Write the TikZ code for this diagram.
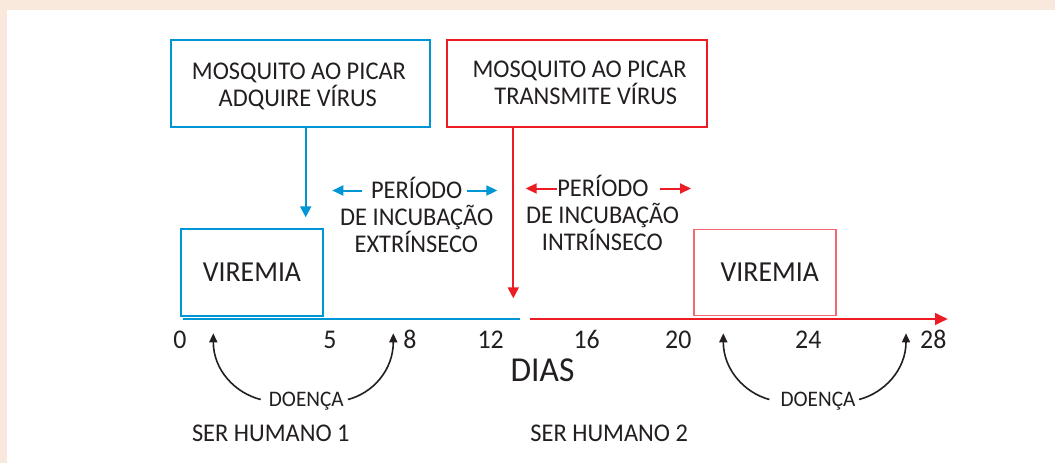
\documentclass[tikz,border=0pt]{standalone}
\usepackage{fontspec}
\setmainfont{Carlito}[FakeStretch=0.957]
\usetikzlibrary{arrows.meta}
\definecolor{cblue}{RGB}{0,150,214}
\definecolor{cred}{RGB}{237,28,36}
\definecolor{lred}{RGB}{242,105,112}
\definecolor{ink}{RGB}{35,31,32}
\definecolor{beige}{RGB}{248,233,220}
\newcommand{\fsz}[1]{\fontsize{#1}{#1}\selectfont}
\tikzset{
  txt/.style={inner sep=0pt, anchor=base, text=ink},
  boxtxt/.style={txt, font=\fsz{25.5}},
  numtxt/.style={txt, font=\fsz{27}},
  frame/.style={draw, inner sep=0pt, line width=2pt},
  bluearr/.style={cblue, line width=2pt, -{Triangle[length=11pt,width=11pt]}},
  redarr/.style={cred, line width=2pt, -{Triangle[length=11pt,width=11pt]}},
  perarrb/.style={cblue, line width=2pt, -{Triangle[length=11pt,width=10pt]}},
  perarrr/.style={cred, line width=2pt, -{Triangle[length=11pt,width=10pt]}},
  dcurve/.style={ink, line width=1.6pt, -{Triangle[length=9pt,width=8pt]}},
  dtxt/.style={txt, font=\fsz{22.2}, text depth=0pt}
}
\begin{document}
\begin{tikzpicture}[x=1pt,y=-1pt]
\useasboundingbox (0,0) rectangle (1055,463);
\fill[white] (0,0) rectangle (1055,463);
\fill[beige] (0,0) rectangle (1055,10);
\fill[beige] (0,0) rectangle (7,463);

% top boxes
\node[frame, draw=cblue, minimum width=259pt, minimum height=87pt] (boxA) at (300.5,83.5) {};
\node[boxtxt] (boxAl1) at (298.9,79.3) {MOSQUITO AO PICAR};
\node[boxtxt] (boxAl2) at (297.8,106) {ADQUIRE VÍRUS};

\node[frame, draw=cred, minimum width=260pt, minimum height=87pt] (boxB) at (577.3,83.7) {};
\node[boxtxt] (boxBl1) at (579.5,77.7) {MOSQUITO AO PICAR};
\node[boxtxt] (boxBl2) at (585.8,104) {TRANSMITE VÍRUS};

% viremia boxes
\node[frame, draw=cblue, minimum width=142.6pt, minimum height=86.4pt, font=\fsz{29}, text=ink] (virA) at (252,272.5) {VIREMIA};
\node[draw=lred, line width=1.3pt, inner sep=0pt, minimum width=142pt, minimum height=86.4pt, font=\fsz{29}, text=ink] (virB) at (765,272.5) {\hspace*{9.6pt}VIREMIA};

% vertical arrows
\coordinate (tipA) at (305.7,217.3);
\coordinate (tipB) at (513.3,298.3);
\draw[bluearr] ([xshift=5.2pt]boxA.south) -- (tipA);
\draw[redarr] ([xshift=-64pt]boxB.south) -- (tipB);

% axes
\coordinate (ax0) at (183.3,318.5);
\coordinate (ax1) at (520,318.5);
\coordinate (ax2) at (530,319);
\coordinate (ax3) at (947.7,319);
\draw[cblue, line width=2pt] (ax0) -- (ax1);
\draw[cred, line width=2pt, -{Triangle[length=12.7pt,width=11.7pt]}] (ax2) -- (ax3);

% period labels (extrinsic)
\node[boxtxt] (perA1) at (416.7,198.3) {PERÍODO};
\node[boxtxt] (perA2) at (416.7,225) {DE INCUBAÇÃO};
\node[boxtxt] (perA3) at (416.3,252.3) {EXTRÍNSECO};
\coordinate (pAl0) at (361.7,190.5);
\coordinate (pAl1) at (332.3,190.5);
\coordinate (pAr0) at (466.7,190.5);
\coordinate (pAr1) at (497.3,190.5);
\draw[perarrb] (pAl0) -- (pAl1);
\draw[perarrb] (pAr0) -- (pAr1);

% period labels (intrinsic)
\node[boxtxt] (perB1) at (603,196) {PERÍODO};
\node[boxtxt] (perB2) at (602.5,223.3) {DE INCUBAÇÃO};
\node[boxtxt] (perB3) at (602.3,250.3) {INTRÍNSECO};
\coordinate (pBl0) at (556.7,188.5);
\coordinate (pBl1) at (525.7,188.5);
\coordinate (pBr0) at (660,188.5);
\coordinate (pBr1) at (691,188.5);
\draw[perarrr] (pBl0) -- (pBl1);
\draw[perarrr] (pBr0) -- (pBr1);

% tick numbers
\node[numtxt] (n0) at (180,348.3) {0};
\node[numtxt] (n5) at (330,348.3) {5};
\node[numtxt] (n8) at (410,348.3) {8};
\node[numtxt] (n12) at (490.7,348.3) {12};
\node[numtxt] (n16) at (586.7,348.3) {16};
\node[numtxt] (n20) at (678.3,348.3) {20};
\node[numtxt] (n24) at (808.3,348.3) {24};
\node[numtxt] (n28) at (933.3,348.3) {28};
\node[txt, font=\fsz{35}] (dias) at (542.5,381.7) {DIAS};

% doenca
\node[dtxt] (doA) at (306.3,406.7) {DOENÇA};
\node[dtxt] (doB) at (818,406.7) {DOENÇA};
\coordinate (dAl) at (213.3,333.3);
\coordinate (dAr) at (393.3,333.3);
\coordinate (dBl) at (723.3,333.3);
\coordinate (dBr) at (906,333.3);
\draw[dcurve] ([xshift=-8pt]doA.west) .. controls (235,393) and (213.3,370) .. (dAl);
\draw[dcurve] ([xshift=4pt]doA.east) .. controls (373,393) and (393.3,370) .. (dAr);
\draw[dcurve] ([xshift=-11pt]doB.west) .. controls (745,393) and (723.3,370) .. (dBl);
\draw[dcurve] ([xshift=3.4pt]doB.east) .. controls (884,393) and (906,370) .. (dBr);

% humans
\node[txt, font=\fsz{25.5}] (hum1) at (270.8,441.7) {SER HUMANO 1};
\node[txt, font=\fsz{25.5}] (hum2) at (609.2,441.7) {SER HUMANO 2};
\end{tikzpicture}
\end{document}
